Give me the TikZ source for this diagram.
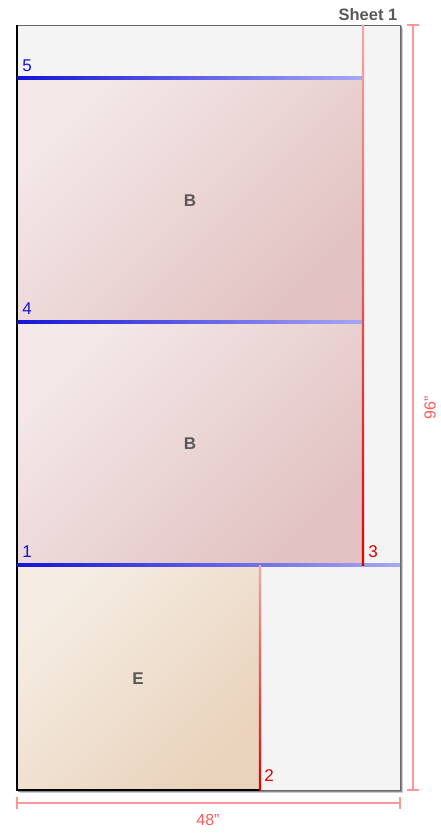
\documentclass[tikz,border=0pt]{standalone}
\usepackage{fontspec}
\setmainfont{Liberation Sans}
\begin{document}
\begin{tikzpicture}[x=1pt,y=-1pt,
  lbl/.style={font=\bfseries\fontsize{17}{17}\selectfont, text=black!65},
  cutnum/.style={font=\fontsize{17}{17}\selectfont, inner sep=0pt},
  dimline/.style={draw=red!40!white, line width=1.2pt},
  dimtxt/.style={font=\fontsize{16}{16}\selectfont, text=red!65!white}]
\definecolor{sheetbg}{HTML}{F4F4F4}
\definecolor{blight}{HTML}{F4E8E8}
\definecolor{bdark}{HTML}{E2C2C2}
\definecolor{elight}{HTML}{F5EDE3}
\definecolor{edark}{HTML}{E9D3BC}
\definecolor{cutblue}{HTML}{1414D8}
\definecolor{cutbluel}{HTML}{A8A8F4}
\definecolor{cutred}{HTML}{E00000}
\definecolor{cutredl}{HTML}{F4A8A8}
\useasboundingbox (0,0) rectangle (440,838);
% shadow
\fill[black!20] (19.5,27.5) rectangle (403,793);
\fill[black!45] (18,26) rectangle (401.5,791.5);
% sheet
\fill[sheetbg] (17,25) rectangle (400,790);
\draw[black!60, line width=1pt] (17,25) rectangle (400,790);
% pieces
\shade[left color=blight, right color=bdark, shading angle=45] (17,78) rectangle (363,322);
\shade[left color=blight, right color=bdark, shading angle=45] (17,322) rectangle (363,565);
\shade[left color=elight, right color=edark, shading angle=45] (17,565) rectangle (260,790);
% black edges
\draw[black, line width=1.8pt] (17,25) -- (17,790) -- (260,790);
% cut lines
\shade[left color=cutblue, right color=cutbluel] (17,76.8) rectangle (363,79.2);
\shade[left color=cutblue, right color=cutbluel] (17,320.8) rectangle (363,323.2);
\shade[left color=cutblue, right color=cutbluel] (17,563.8) rectangle (400,566.2);
\shade[top color=cutredl, bottom color=cutred] (361.8,25) rectangle (364.2,565);
\shade[top color=cutredl, bottom color=cutred] (258.8,565) rectangle (261.2,790);
% labels
\node[lbl] (b1) at (190,201) {B};
\node[lbl] (b2) at (190,444) {B};
\node[lbl] (e1) at (138,679) {E};
\node[cutnum, text=cutblue] (n5) at (27,66) {5};
\node[cutnum, text=cutblue] (n4) at (27,309) {4};
\node[cutnum, text=cutblue] (n1) at (27,552) {1};
\node[cutnum, text=cutred] (n3) at (373,552) {3};
\node[cutnum, text=cutred] (n2) at (269,776) {2};
\node[font=\bfseries\fontsize{16.5}{16.5}\selectfont, text=black!65] (title) at (368,15) {Sheet 1};
% dimensions
\coordinate (hl) at (17,803);
\coordinate (hr) at (400,803);
\draw[dimline] (hl) -- (hr);
\draw[dimline] (17,797) -- (17,809);
\draw[dimline] (400,797) -- (400,809);
\node[dimtxt] (w) at (208,820) {48"};
\coordinate (vt) at (413,25);
\coordinate (vb) at (413,790);
\draw[dimline] (vt) -- (vb);
\draw[dimline] (407,25) -- (419,25);
\draw[dimline] (407,790) -- (419,790);
\node[dimtxt, rotate=90] (h) at (430,408) {96"};
\end{tikzpicture}
\end{document}
